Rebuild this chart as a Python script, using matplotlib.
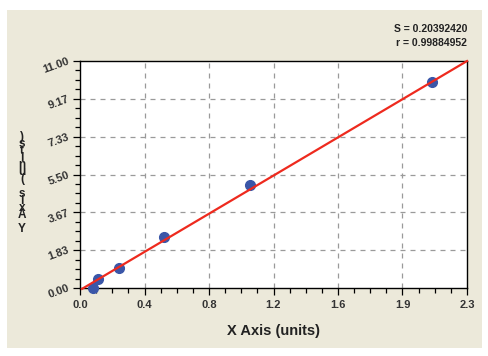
import matplotlib
matplotlib.use("Agg")
import matplotlib.pyplot as plt
from matplotlib.patches import Rectangle
from matplotlib.ticker import FixedLocator, MultipleLocator
import numpy as np

# ---- data ----
x_vals = [0.079, 0.109, 0.232, 0.497, 1.010, 2.090]
y_vals = [0.00, 0.44, 0.95, 2.47, 5.00, 9.98]
fit_slope = 4.825
fit_intercept = -0.10
fit_x_range = [0.012, 2.3]
x_tick_labels = ["0.0", "0.4", "0.8", "1.2", "1.6", "1.9", "2.3"]
y_tick_labels = ["0.00", "1.83", "3.67", "5.50", "7.33", "9.17", "11.00"]
x_max = 2.3
y_max = 11.0
stat_text = ["S = 0.20392420", "r = 0.99884952"]
x_label = "X Axis (units)"
y_label = "Y Axis (units)"

plt.rcParams['font.family'] = ['Liberation Sans', 'DejaVu Sans']

W, H = 489, 356
fig = plt.figure(figsize=(W / 100, H / 100), dpi=100, facecolor="white")

# beige panel
fig.patches.append(Rectangle((7 / W, (H - 348) / H), 475 / W, 338 / H,
                             transform=fig.transFigure, facecolor="#ECE9DA",
                             edgecolor="none", zorder=-10))

ax = fig.add_axes([80 / W, (H - 288) / H, 387 / W, 227 / H])
ax.set_zorder(5)
ax.set_facecolor("white")
ax.set_xlim(0, x_max)
ax.set_ylim(0, y_max)

xt = np.linspace(0, x_max, len(x_tick_labels))
yt = np.linspace(0, y_max, len(y_tick_labels))
ax.xaxis.set_major_locator(FixedLocator(xt))
ax.yaxis.set_major_locator(FixedLocator(yt))
ax.xaxis.set_minor_locator(MultipleLocator(x_max / 6 / 4))
ax.yaxis.set_minor_locator(MultipleLocator(y_max / 6 / 4))
ax.set_xticklabels(x_tick_labels, fontsize=8, fontweight="bold", color="#333333")
ax.set_yticklabels(y_tick_labels, fontsize=8, fontweight="bold", color="#333333")
for lab in ax.get_yticklabels():
    lab.set_rotation(20)
    lab.set_rotation_mode("anchor")
    lab.set_ha("right")
    lab.set_va("center")

ax.tick_params(axis="both", which="major", direction="out", length=5, width=0.9, color="black")
ax.tick_params(axis="both", which="minor", direction="out", length=3.5, width=0.9, color="black")
ax.tick_params(axis="x", which="major", pad=4)
ax.tick_params(axis="y", which="major", pad=3)

for s in ax.spines.values():
    s.set_linewidth(1.0)
    s.set_color("black")

# gridlines at interior major ticks
for v in xt[1:-1]:
    ax.axvline(v, color="#9a9a9a", lw=0.9, ls=(0, (4, 4)), zorder=1)
for v in yt[1:-1]:
    ax.axhline(v, color="#9a9a9a", lw=0.9, ls=(0, (4, 4)), zorder=1)

ax.plot(x_vals, y_vals, "o", color="#3A56A8", ms=7, mec="#3A56A8", zorder=3, clip_on=False)

fx = np.array(fit_x_range)
ax.plot(fx, fit_intercept + fit_slope * fx, color="#EE2A1E", lw=1.6, zorder=4, clip_on=False)

ax.set_xlabel(x_label, fontsize=10.5, fontweight="bold", color="#222222", labelpad=10)

# stacked y-label
fig.text(22 / W, (H - 183) / H, "\n".join(reversed(y_label)), ha="center", va="center",
         fontsize=8.5, fontweight="bold", color="#222222", linespacing=0.46)

fig.text(467 / W, (H - 29) / H, stat_text[0], ha="right", va="center",
         fontsize=7.5, fontweight="bold", color="#222222")
fig.text(467 / W, (H - 43) / H, stat_text[1], ha="right", va="center",
         fontsize=7.5, fontweight="bold", color="#222222")

fig.savefig("out.png", dpi=100, facecolor="white")
